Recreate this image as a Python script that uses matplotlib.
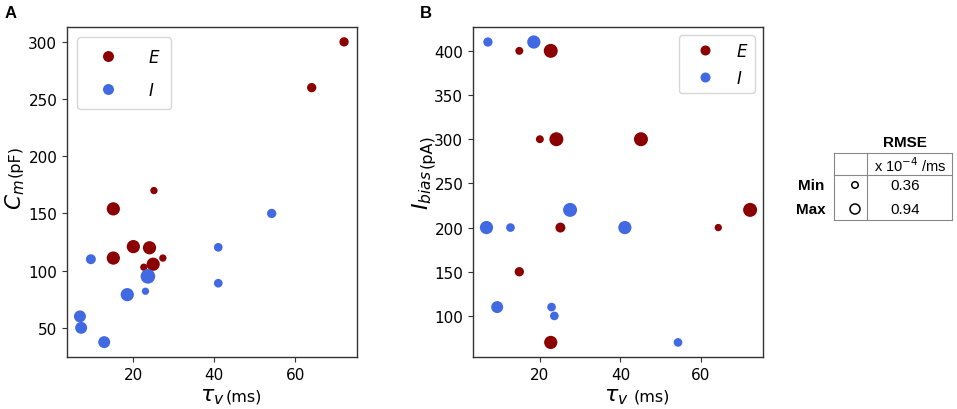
import numpy as np
import matplotlib
matplotlib.use("Agg")
import matplotlib.pyplot as plt
from matplotlib.lines import Line2D

# ---------------- data ----------------
# Panel A: tau_v (ms) vs C_m (pF), marker size = RMSE (x1e-4 /ms)
a_e_tau = [72.1, 64.1, 25.1, 15.05, 20.0, 24.0, 15.05, 27.3, 24.9, 22.6]
a_e_cm = [300, 260, 170, 154, 121, 120, 111, 111, 105.6, 103]
a_e_rmse = [0.52, 0.52, 0.36, 0.83, 0.83, 0.83, 0.83, 0.36, 0.83, 0.36]

a_i_tau = [54.2, 41.0, 41.0, 9.5, 23.6, 23.0, 18.5, 6.8, 7.1, 12.8]
a_i_cm = [150, 120.4, 89, 110, 95, 82, 79, 60, 50, 37.5]
a_i_rmse = [0.52, 0.47, 0.47, 0.57, 0.94, 0.36, 0.83, 0.73, 0.73, 0.73]

# Panel B: tau_v (ms) vs I_bias (pA)
b_e_tau = [14.9, 22.7, 20.0, 24.1, 45.1, 72.2, 25.1, 64.3, 14.9, 22.7]
b_e_ibias = [400, 400, 300, 300, 300, 220, 200, 200, 150, 70]
b_e_rmse = [0.41, 0.89, 0.41, 0.89, 0.89, 0.89, 0.57, 0.36, 0.52, 0.83]

b_i_tau = [7.1, 18.5, 27.5, 6.75, 12.7, 41.1, 9.4, 22.9, 23.6, 54.3]
b_i_ibias = [410, 410, 220, 200, 200, 200, 110, 110, 100, 70]
b_i_rmse = [0.52, 0.83, 0.89, 0.83, 0.47, 0.83, 0.73, 0.47, 0.47, 0.47]

rmse_min, rmse_max = 0.36, 0.94
a_xticks = [20, 40, 60]
a_yticks = [50, 100, 150, 200, 250, 300]
b_xticks = [20, 40, 60]
b_yticks = [100, 150, 200, 250, 300, 350, 400]

C_E = "#8b0000"
C_I = "#4169e1"

DPI = 100
fig = plt.figure(figsize=(9.57, 4.10), dpi=DPI)


def sizes(r, d0=7.3, span=7.3):
    r = np.asarray(r, dtype=float)
    d_px = d0 + (r - rmse_min) / (rmse_max - rmse_min) * span
    d_pt = d_px * 72.0 / DPI
    return d_pt ** 2


W, H = 957.0, 410.0


def px_axes(l, t, r, b):
    return [l / W, 1 - b / H, (r - l) / W, (b - t) / H]


axA = fig.add_axes(px_axes(67, 28, 357, 358))
axB = fig.add_axes(px_axes(473, 28, 763, 358))

for ax in (axA, axB):
    for s in ax.spines.values():
        s.set_color("#333333")
        s.set_linewidth(1.0)
    ax.tick_params(labelsize=11, color="#333333", length=3.5, width=0.8)

axA.scatter(a_e_tau, a_e_cm, s=sizes(a_e_rmse), c=C_E, linewidths=0, zorder=3)
axA.scatter(a_i_tau, a_i_cm, s=sizes(a_i_rmse), c=C_I, linewidths=0, zorder=3)
axA.set_xlim(3.6, 75.3)
axA.set_ylim(24.5, 313)
axA.set_xticks(a_xticks)
axA.set_yticks(a_yticks)

axB.scatter(b_e_tau, b_e_ibias, s=sizes(b_e_rmse), c=C_E, linewidths=0, zorder=3)
axB.scatter(b_i_tau, b_i_ibias, s=sizes(b_i_rmse), c=C_I, linewidths=0, zorder=3)
axB.set_xlim(3.4, 75.4)
axB.set_ylim(53.5, 427)
axB.set_xticks(b_xticks)
axB.set_yticks(b_yticks)

hEa = Line2D([], [], ls="", marker="o", ms=7.9, mfc=C_E, mec=C_E, mew=0)
hIa = Line2D([], [], ls="", marker="o", ms=7.9, mfc=C_I, mec=C_I, mew=0)
hEb = Line2D([], [], ls="", marker="o", ms=7.2, mfc=C_E, mec=C_E, mew=0)
hIb = Line2D([], [], ls="", marker="o", ms=7.2, mfc=C_I, mec=C_I, mew=0)
axA.legend([hEa, hIa], [r"$E$", r"$I$"], loc="upper left", fontsize=12,
           handletextpad=1.17, borderpad=0.63, labelspacing=0.9,
           handlelength=2.45, borderaxespad=0.62, framealpha=0.8)
axB.legend([hEb, hIb], [r"$E$", r"$I$"], loc="upper right", fontsize=12,
           handletextpad=0.66, borderpad=0.38, labelspacing=0.54,
           handlelength=2.4, borderaxespad=0.5, framealpha=0.8)

# overlay in pixel coordinates for labels and the RMSE table
ov = fig.add_axes([0, 0, 1, 1], zorder=10)
ov.set_xlim(0, W)
ov.set_ylim(H, 0)
ov.axis("off")
ov.patch.set_alpha(0)

# panel letters
ov.text(5, 13, "A", fontsize=12, fontweight="bold", ha="left", va="center",
        family="Liberation Sans")
ov.text(420, 13, "B", fontsize=12, fontweight="bold", ha="left", va="center",
        family="Liberation Sans")

# x labels
ov.text(225, 397, r"$\tau_v$", fontsize=16, ha="right", va="center")
ov.text(226, 397, "(ms)", fontsize=11.5, ha="left", va="center")
ov.text(629, 397, r"$\tau_v$", fontsize=16, ha="right", va="center")
ov.text(634, 397, "(ms)", fontsize=11.5, ha="left", va="center")

# y labels (rotated: C_m below, (pF) above)
ov.text(15, 179, r"$C_m$", fontsize=15.5, ha="center", va="top", rotation=90)
ov.text(15.5, 177, "(pF)", fontsize=11.5, ha="center", va="bottom", rotation=90)
ov.text(422, 170, r"$I_{bias}$", fontsize=16, ha="center", va="top",
        rotation=90)
ov.text(427, 168, "(pA)", fontsize=11.5, ha="center", va="bottom", rotation=90)

# RMSE table
tfam = "Liberation Sans"
lc = "#888888"
ov.plot([834, 952], [154, 154], color=lc, lw=0.8)
ov.plot([834, 952], [176, 176], color=lc, lw=0.8)
ov.plot([834, 952], [221, 221], color=lc, lw=0.8)
ov.plot([834, 834], [154, 221], color=lc, lw=0.8)
ov.plot([867, 867], [154, 221], color=lc, lw=0.8)
ov.plot([952, 952], [154, 221], color=lc, lw=0.8)
ov.text(905, 143, "RMSE", fontsize=11, fontweight="bold", ha="center",
        va="center", family=tfam)
ov.text(910, 166, r"x 10$^{-4}$ /ms", fontsize=10.5, ha="center", va="center",
        family=tfam)
ov.text(811, 186, "Min", fontsize=11, fontweight="bold", ha="center",
        va="center", family=tfam)
ov.text(811, 210, "Max", fontsize=11, fontweight="bold", ha="center",
        va="center", family=tfam)
ov.scatter([855, 855], [186, 210], s=sizes([rmse_min, rmse_max], 6.5, 3.5),
           facecolors="none", edgecolors="black", linewidths=1.1)
ov.text(905, 186, f"{rmse_min:.2f}", fontsize=11, ha="center", va="center",
        family=tfam)
ov.text(905, 210, f"{rmse_max:.2f}", fontsize=11, ha="center", va="center",
        family=tfam)

fig.savefig("out.png", dpi=DPI)
